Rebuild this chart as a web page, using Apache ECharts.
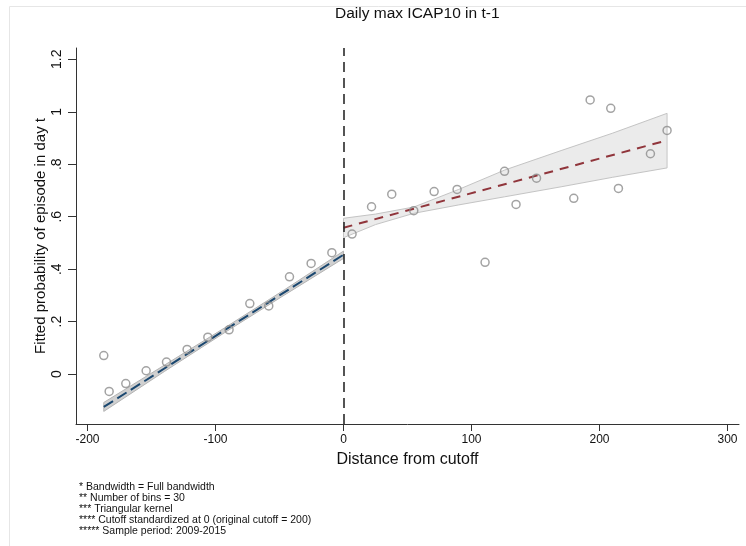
<!DOCTYPE html>
<html>
<head>
<meta charset="utf-8">
<script src="https://cdn.jsdelivr.net/npm/echarts@6/dist/echarts.min.js"></script>
<style>
  html, body { margin: 0; padding: 0; background: #fff; }
  #chart { width: 746px; height: 546px; }
</style>
</head>
<body>
<div id="chart"></div>
<script>
// binned means, left of cutoff
const leftX = [-187.3, -183.1, -170.1, -154.2, -138.3, -122.2, -106.0, -89.4, -73.2, -58.4, -42.2, -25.3, -9.1]
const leftY = [0.071, -0.066, -0.036, 0.013, 0.046, 0.094, 0.141, 0.169, 0.269, 0.260, 0.371, 0.422, 0.463]
// binned means, right of cutoff
const rightX = [6.7, 21.9, 37.7, 54.9, 70.8, 88.75, 110.6, 125.8, 134.8, 150.8, 179.9, 192.7, 208.8, 214.8, 239.8, 252.8]
const rightY = [0.534, 0.638, 0.686, 0.623, 0.696, 0.704, 0.426, 0.773, 0.647, 0.747, 0.670, 1.045, 1.013, 0.708, 0.840, 0.929]

// fitted lines (end points)
const leftFitX = [-187.3, 0]
const leftFitY = [-0.125, 0.455]
const rightFitX = [0, 252.8]
const rightFitY = [0.558, 0.891]

// confidence bands
const leftBandX = [-187.3, -140, -93, -46, 0]
const leftUpper = [-0.108, 0.034, 0.176, 0.322, 0.469]
const leftLower = [-0.142, 0.010, 0.158, 0.302, 0.441]
const rightBandX = [0, 25, 55, 90, 126, 170, 210, 252.8]
const rightUpper = [0.594, 0.610, 0.637, 0.704, 0.778, 0.852, 0.918, 0.994]
const rightLower = [0.520, 0.570, 0.613, 0.645, 0.676, 0.714, 0.750, 0.786]

const xTicks = [-200, -100, 0, 100, 200, 300]
const yTicks = [0, 0.2, 0.4, 0.6, 0.8, 1, 1.2]

const notes = [
  '* Bandwidth = Full bandwidth',
  '** Number of bins = 30',
  '*** Triangular kernel',
  '**** Cutoff standardized at 0 (original cutoff = 200)',
  '***** Sample period: 2009-2015'
]

const zip = (a, b) => a.map((v, i) => [v, b[i]])
const FONT = 'Liberation Sans, Arial, Helvetica, sans-serif'

// one polygon per band: upper edge left to right, lower edge back
function band(name, xs, lo, hi, fill, edge) {
  return {
    name: name, type: 'custom', silent: true, z: 1,
    data: xs.map((x, i) => [x, lo[i], hi[i]]),
    renderItem: function (params, api) {
      if (params.dataIndex !== 0) return null
      const pts = []
      xs.forEach((x, i) => pts.push(api.coord([x, hi[i]])))
      for (let i = xs.length - 1; i >= 0; i--) pts.push(api.coord([xs[i], lo[i]]))
      return {
        type: 'polygon',
        shape: { points: pts },
        style: { fill: fill, stroke: edge, lineWidth: 1 }
      }
    }
  }
}

const chart = echarts.init(document.getElementById('chart'))
chart.setOption({
  animation: false,
  backgroundColor: '#fff',
  title: {
    text: 'Daily max ICAP10 in t-1',
    left: 330, top: 1,
    textStyle: { fontFamily: FONT, fontSize: 15.5, fontWeight: 'normal', color: '#111' }
  },
  grid: { left: 76, right: 7, top: 48, bottom: 122 },
  xAxis: {
    type: 'value', min: -209, max: 309,
    name: 'Distance from cutoff', nameLocation: 'middle', nameGap: 28,
    nameTextStyle: { fontFamily: FONT, fontSize: 16, color: '#111' },
    splitLine: { show: false },
    axisLine: { show: true, onZero: false, lineStyle: { color: '#333', width: 1 } },
    axisTick: { show: true, length: 7, customValues: xTicks, lineStyle: { color: '#333' } },
    axisLabel: { customValues: xTicks, margin: 10, fontFamily: FONT, fontSize: 12, color: '#111' }
  },
  yAxis: {
    type: 'value', min: -0.19, max: 1.243,
    name: 'Fitted probability of episode in day t', nameLocation: 'middle', nameGap: 28,
    nameMoveOverlap: false,
    nameTextStyle: { fontFamily: FONT, fontSize: 15, color: '#111' },
    splitLine: { show: false },
    axisLine: { show: true, onZero: false, lineStyle: { color: '#333', width: 1 } },
    axisTick: { show: true, length: 8, customValues: yTicks, lineStyle: { color: '#333' } },
    axisLabel: {
      customValues: yTicks, rotate: 90, margin: 12,
      fontFamily: FONT, fontSize: 14, color: '#111',
      formatter: v => String(Math.round(v * 10) / 10).replace(/^0\./, '.')
    }
  },
  series: [
    band('leftBand', leftBandX, leftLower, leftUpper, '#d0d0d0', '#b4b4b4'),
    band('rightBand', rightBandX, rightLower, rightUpper, '#ebebeb', '#c4c4c4'),
    {
      name: 'leftFit', type: 'line', data: zip(leftFitX, leftFitY),
      symbol: 'none', z: 3,
      lineStyle: { color: '#1a476f', width: 2, type: [11, 5] }
    },
    {
      name: 'rightFit', type: 'line', data: zip(rightFitX, rightFitY),
      symbol: 'none', z: 3,
      lineStyle: { color: '#90353b', width: 2, type: [9, 7] }
    },
    {
      name: 'left', type: 'scatter', data: zip(leftX, leftY), z: 4,
      symbol: 'circle', symbolSize: 8,
      itemStyle: { color: 'rgba(255,255,255,0)', borderColor: '#8c8c8c', borderWidth: 1.5 }
    },
    {
      name: 'right', type: 'scatter', data: zip(rightX, rightY), z: 4,
      symbol: 'circle', symbolSize: 8,
      itemStyle: { color: 'rgba(255,255,255,0)', borderColor: '#8c8c8c', borderWidth: 1.5 },
      markLine: {
        silent: true, symbol: 'none', label: { show: false },
        lineStyle: { color: '#2a2a2a', width: 1.6, type: [10, 6] },
        data: [{ xAxis: 0 }]
      }
    }
  ],
  graphic: [
    {
      type: 'rect', silent: true, z: -1,
      shape: { x: 9.5, y: 6.5, width: 760, height: 560 },
      style: { fill: 'none', stroke: '#e6e6e6', lineWidth: 1 }
    },
    {
      type: 'text', left: 79, top: 482, silent: true,
      style: { text: notes.join('\n'), font: '10.5px ' + FONT, lineHeight: 11, fill: '#111' }
    }
  ]
})
</script>
</body>
</html>
